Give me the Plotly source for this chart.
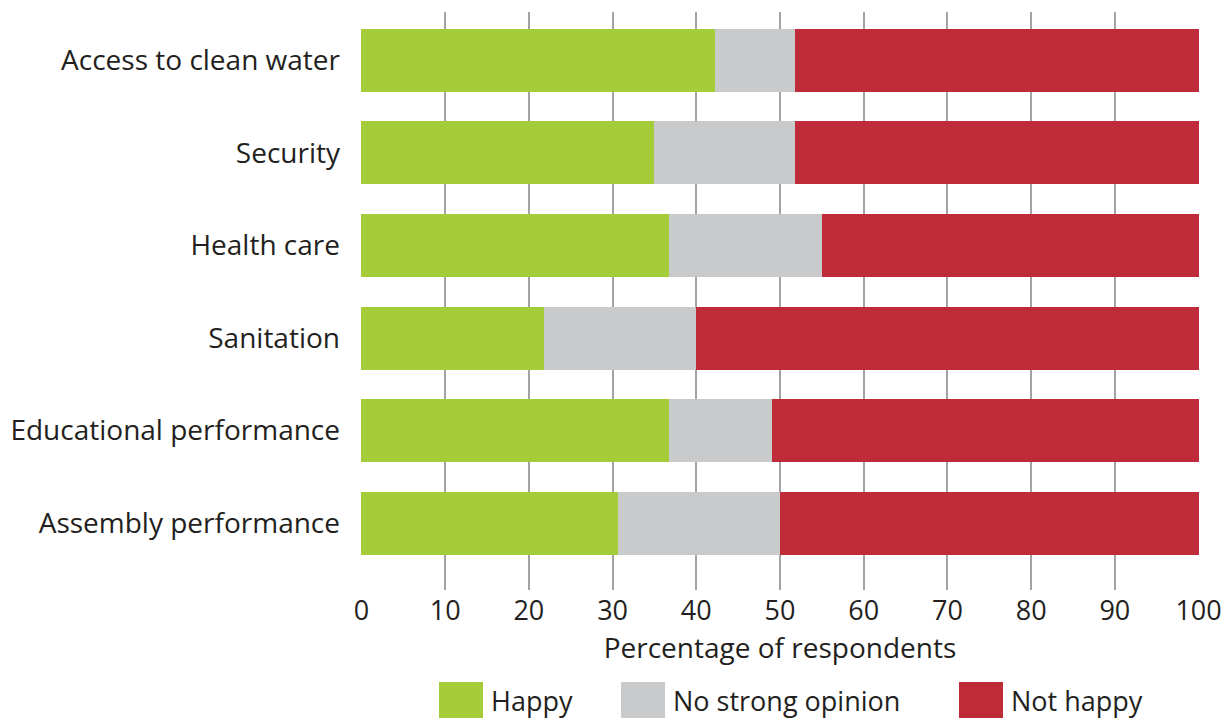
import plotly.graph_objects as go

categories = ["Access to clean water", "Security", "Health care", "Sanitation",
              "Educational performance", "Assembly performance"]
happy = [42.2, 35.0, 36.8, 21.8, 36.8, 30.7]
no_opinion = [9.6, 16.8, 18.2, 18.2, 12.2, 19.3]
not_happy = [round(100 - h - n, 1) for h, n in zip(happy, no_opinion)]
series_names = ["Happy", "No strong opinion", "Not happy"]
colors = ["#a4cd39", "#c9cacc", "#bf2b38"]
x_ticks = list(range(0, 101, 10))

FONT = "Open Sans"
TXT = "#231f20"
FS = 28

W, H = 1223, 719
ML, MR, MT, MB = 361, 24, 12, 129
PW = W - ML - MR
PH = H - MT - MB

fig = go.Figure()
for name, vals, col in zip(series_names, [happy, no_opinion, not_happy], colors):
    fig.add_trace(go.Bar(y=categories, x=vals, name=name, orientation="h",
                         marker=dict(color=col, line=dict(width=0)),
                         showlegend=False))

fig.update_layout(
    barmode="stack",
    bargap=0.32,
    width=W, height=H,
    margin=dict(l=ML, r=MR, t=MT, b=MB),
    paper_bgcolor="white", plot_bgcolor="white",
    font=dict(family=FONT, size=FS, color=TXT),
    xaxis=dict(range=[-0.05, 100.05], tickvals=x_ticks, showgrid=True,
               gridcolor="#a3a3a6", gridwidth=1.5, zeroline=False,
               showline=False, ticks="", ticklabelstandoff=2, automargin=False,
               ticklabeloverflow="allow", tickfont=dict(size=27),
               title=dict(text="Percentage of respondents", standoff=7,
                          font=dict(size=FS))),
    yaxis=dict(categoryorder="array", categoryarray=categories,
               range=[5.72, -0.52], showgrid=False, ticks="",
               ticklabelstandoff=20, showline=False, automargin=False),
)

# custom legend (paper coordinates derived from pixel layout)
def px_to_paper_x(px):
    return (px - ML) / PW

def py_to_paper_y(py):
    return (H - MB - py) / PH

key_left = [439, 621, 959]
key_w, key_top, key_bot = 44, 682, 718
for name, col, kl in zip(series_names, colors, key_left):
    fig.add_shape(type="rect", xref="paper", yref="paper",
                  x0=px_to_paper_x(kl), x1=px_to_paper_x(kl + key_w),
                  y0=py_to_paper_y(key_bot), y1=py_to_paper_y(key_top),
                  fillcolor=col, line=dict(width=0))
    fig.add_annotation(xref="paper", yref="paper",
                       x=px_to_paper_x(kl + key_w + 6),
                       y=py_to_paper_y((key_top + key_bot) / 2),
                       xanchor="left", yanchor="middle", text=name,
                       showarrow=False, font=dict(size=FS - 1, color=TXT))

fig.write_html("out.html")
